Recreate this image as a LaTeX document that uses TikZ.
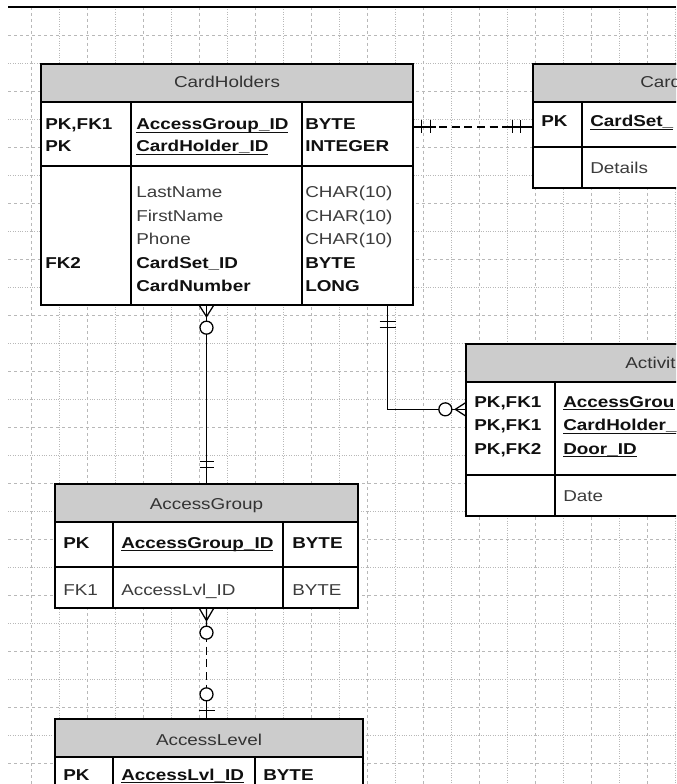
\documentclass[tikz,border=0pt]{standalone}
\usepackage{fontspec}
\setmainfont{Liberation Sans}[FakeStretch=1.2]
\usetikzlibrary{fit,calc}
\definecolor{headgray}{HTML}{CCCCCC}
\definecolor{gridgray}{HTML}{B8B8B8}
\definecolor{fieldink}{HTML}{3C3C3C}
\definecolor{keyink}{HTML}{101010}
\definecolor{titleink}{HTML}{333333}
\newcommand{\keyul}[1]{\setbox0\hbox{#1}\rlap{\rule[-2.4pt]{\wd0}{0.8pt}}\box0}
\newcommand{\erfont}{\fontsize{11.8}{14}\selectfont}
\tikzset{
  entity/.style={draw=black,line width=1pt,fill=white,inner sep=0pt},
  entityhead/.style={entity,fill=headgray},
  headtext/.style={anchor=base west,inner sep=0pt,font=\erfont,text=titleink},
  field/.style={anchor=base west,inner sep=0pt,font=\erfont,text=fieldink},
  keyfield/.style={field,font=\erfont\bfseries,text=keyink},
  divider/.style={draw=black,line width=1pt},
  rel/.style={draw=black,line width=.95pt},
  reldash/.style={rel,dash pattern=on 6pt off 3.5pt},
  ringmark/.style={rel,fill=white},
  gridmajor/.style={draw=gridgray,line width=.5pt,dash pattern=on 2.5pt off 2pt},
  gridminor/.style={draw=gridgray,line width=.5pt,dash pattern=on .6pt off 1.2pt},
}
\begin{document}
\begin{tikzpicture}[x=0.75pt,y=-0.75pt]
\useasboundingbox (0,0) rectangle (676,784);
\clip (0,0) rectangle (676,784);
\fill[white] (0,0) rectangle (676,784);

% page grid
\foreach \gx [count=\k] in {31,59,...,675}
  {\ifodd\k \draw[gridmajor] (\gx,7) -- (\gx,784); \else \draw[gridminor] (\gx,7) -- (\gx,784); \fi}
\foreach \gy [count=\k] in {35,63,...,763}
  {\ifodd\k \draw[gridmajor] (8,\gy) -- (676,\gy); \else \draw[gridminor] (8,\gy) -- (676,\gy); \fi}
\draw[line width=1.1pt] (8,7) -- (676,7);

% CardHolders
\node[entity,fit={(41,64) (413,305)}] (holders) {};
\node[entityhead,fit={(41,64) (413,102)}] (holders-head) {};
\node[headtext,anchor=base] (holders-title) at (227,88) {CardHolders};
\draw[divider] (41,166) -- (413,166) (131,102) -- (131,305) (302,102) -- (302,305);
\node[keyfield] (ch-k1) at (45,129.5) {PK,FK1};
\node[keyfield] (ch-f1) at (136,129.5) {\keyul{AccessGroup\_ID}};
\node[keyfield] (ch-t1) at (305,129.5) {BYTE};
\node[keyfield] (ch-k2) at (45,151.5) {PK};
\node[keyfield] (ch-f2) at (136,151.5) {\keyul{CardHolder\_ID}};
\node[keyfield] (ch-t2) at (305,151.5) {INTEGER};
\node[field] (ch-f3) at (136,198) {LastName};
\node[field] (ch-t3) at (305,198) {CHAR(10)};
\node[field] (ch-f4) at (136,221.5) {FirstName};
\node[field] (ch-t4) at (305,221.5) {CHAR(10)};
\node[field] (ch-f5) at (136,244.5) {Phone};
\node[field] (ch-t5) at (305,244.5) {CHAR(10)};
\node[keyfield] (ch-k6) at (45,268) {FK2};
\node[keyfield] (ch-f6) at (136,268) {CardSet\_ID};
\node[keyfield] (ch-t6) at (305,268) {BYTE};
\node[keyfield] (ch-f7) at (136,291) {CardNumber};
\node[keyfield] (ch-t7) at (305,291) {LONG};

% CardSets (cut at the page edge)
\node[entity,fit={(533,64) (720,188)}] (cardsets) {};
\node[entityhead,fit={(533,64) (720,102)}] (cardsets-head) {};
\draw[divider] (533,147) -- (720,147) (582,102) -- (582,188);
\node[headtext] (cs-title) at (640,88) {Card};
\node[keyfield] (cs-k1) at (541,127) {PK};
\node[keyfield] (cs-f1) at (590,127) {\keyul{CardSet\_}};
\node[field] (cs-f2) at (590,174) {Details};

% Activity (cut at the page edge)
\node[entity,fit={(466,344) (720,516)}] (activity) {};
\node[entityhead,fit={(466,344) (720,382)}] (activity-head) {};
\draw[divider] (466,475) -- (720,475) (555,382) -- (555,516);
\node[headtext] (ac-title) at (625,368) {Activit};
\node[keyfield] (ac-k1) at (474,407) {PK,FK1};
\node[keyfield] (ac-f1) at (563,407) {\keyul{AccessGrou}};
\node[keyfield] (ac-k2) at (474,430.5) {PK,FK1};
\node[keyfield] (ac-f2) at (563,430.5) {\keyul{CardHolder\_}};
\node[keyfield] (ac-k3) at (474,454) {PK,FK2};
\node[keyfield] (ac-f3) at (563,454) {\keyul{Door\_ID}};
\node[field] (ac-f4) at (563,501) {Date};

% AccessGroup
\node[entity,fit={(55,484) (358,608)}] (grp) {};
\node[entityhead,fit={(55,484) (358,522)}] (grp-head) {};
\node[headtext,anchor=base] (grp-title) at (206.5,509) {AccessGroup};
\draw[divider] (55,567) -- (358,567) (113,522) -- (113,608) (283,522) -- (283,608);
\node[keyfield] (ag-k1) at (63,548) {PK};
\node[keyfield] (ag-f1) at (121,548) {\keyul{AccessGroup\_ID}};
\node[keyfield] (ag-t1) at (292,548) {BYTE};
\node[field] (ag-k2) at (63,595) {FK1};
\node[field] (ag-f2) at (121,595) {AccessLvl\_ID};
\node[field] (ag-t2) at (292,595) {BYTE};

% AccessLevel (cut at the page bottom)
\node[entity,fit={(55,719) (363,810)}] (level) {};
\node[entityhead,fit={(55,719) (363,757)}] (level-head) {};
\node[headtext,anchor=base] (level-title) at (209,745) {AccessLevel};
\draw[divider] (113,757) -- (113,810) (255,757) -- (255,810);
\node[keyfield] (al-k1) at (63,780) {PK};
\node[keyfield] (al-f1) at (121,780) {\keyul{AccessLvl\_ID}};
\node[keyfield] (al-t1) at (263,780) {BYTE};

% CardHolders -- CardSets: one and only one at both ends
\draw[reldash] (holders.east |- cs-k1.base) coordinate (ch-cs) -- (cardsets.west |- cs-k1.base) coordinate (cs-ch);
\draw[rel] (ch-cs) -- ++(22,0) ($(ch-cs)+(8,-6.5)$) -- ++(0,13) ($(ch-cs)+(17,-6.5)$) -- ++(0,13);
\draw[rel] (cs-ch) -- ++(-23,0) ($(cs-ch)+(-20,-6.5)$) -- ++(0,13) ($(cs-ch)+(-12,-6.5)$) -- ++(0,13);

% CardHolders -- AccessGroup: zero or many / one and only one
\draw[rel] (holders.south -| grp.north) coordinate (ch-ag) -- (grp.north) coordinate (ag-ch);
\draw[rel] ($(ch-ag)+(-7,0)$) -- ($(ch-ag)+(0,11)$) -- ($(ch-ag)+(7,0)$);
\draw[ringmark] ($(ch-ag)+(0,22)$) circle[radius=6.5];
\draw[rel] ($(ag-ch)+(-7,-22)$) -- ++(14,0) ($(ag-ch)+(-7,-16)$) -- ++(14,0);

% CardHolders -- Activity: one and only one / zero or many
\draw[rel] ($(holders.south east)+(-26,0)$) coordinate (ch-ac) |- ($(activity.north west)+(0,66)$) coordinate (ac-ch);
\draw[rel] ($(ch-ac)+(-8,16)$) -- ++(16,0) ($(ch-ac)+(-8,22)$) -- ++(16,0);
\draw[ringmark] ($(ac-ch)+(-20,0)$) circle[radius=6.5];
\draw[rel] ($(ac-ch)+(0,-6.5)$) -- ($(ac-ch)+(-10,0)$) -- ($(ac-ch)+(0,6.5)$);

% AccessGroup -- AccessLevel: zero or many / zero or one
\draw[reldash] (grp.south) coordinate (ag-al) -- (level.north -| grp.south) coordinate (al-ag);
\draw[rel] (ag-al) -- ++(0,18) ($(ag-al)+(-7,0)$) -- ($(ag-al)+(0,12)$) -- ($(ag-al)+(7,0)$);
\draw[ringmark] ($(ag-al)+(0,24)$) circle[radius=6.5];
\draw[rel] (al-ag) -- ++(0,-20) ($(al-ag)+(-8,-8)$) -- ++(16,0);
\draw[ringmark] ($(al-ag)+(0,-24)$) circle[radius=6.5];
\end{tikzpicture}
\end{document}
